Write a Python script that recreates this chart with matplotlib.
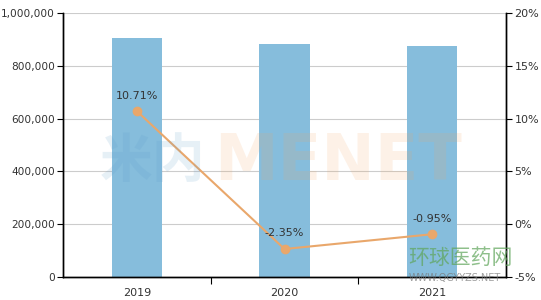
import matplotlib.pyplot as plt
import matplotlib.ticker as mticker
import numpy as np

plt.rcParams['font.family'] = ['DejaVu Sans', 'Noto Sans CJK SC']
plt.rcParams['font.size'] = 8

years = ['2019', '2020', '2021']
sales = [905000, 882000, 874000]
growth = [10.71, -2.35, -0.95]

bar_color = '#86BDDC'
line_color = '#E9A76B'
text_color = '#333333'

fig = plt.figure(figsize=(5.41, 3.0), dpi=100)
ax = fig.add_axes([0.1165, 0.0767, 0.8188, 0.88])
ax2 = ax.twinx()

x = np.arange(len(years))
ax.bar(x, sales, width=0.34, color=bar_color, zorder=2)
ax.set_xlim(-0.5, 2.5)
ax.set_ylim(0, 1000000)
ax.set_yticks(np.arange(0, 1000001, 200000))
ax.yaxis.set_major_formatter(mticker.FuncFormatter(lambda v, p: f'{int(v):,}'))
ax.grid(True, axis='y', color='#cccccc', linewidth=0.8, zorder=0)
ax.set_axisbelow(True)

# x ticks at category boundaries, labels at centers
ax.set_xticks([0.5, 1.5])
ax.set_xticklabels([])
ax.set_xticks(x, minor=True)
ax.set_xticklabels(years, minor=True)
ax.tick_params(axis='x', which='minor', length=0, pad=8, colors=text_color)
ax.tick_params(axis='x', which='major', length=5, color='black')
ax.tick_params(axis='y', length=4, pad=2, colors=text_color, labelsize=7.6)
ax.tick_params(axis='y', color='black')

ax2.plot(x, growth, color=line_color, linewidth=1.5, marker='o', markersize=6, zorder=3)
ax2.set_ylim(-5, 20)
ax2.set_yticks(np.arange(-5, 21, 5))
ax2.yaxis.set_major_formatter(mticker.FuncFormatter(lambda v, p: f'{int(v)}%'))
ax2.tick_params(axis='y', length=4, pad=2, colors=text_color, labelsize=8)
ax2.tick_params(axis='y', color='black')
for xi, g in zip(x, growth):
    ax2.text(xi, g + 1.0, f'{g:.2f}%', ha='center', va='bottom', color=text_color, fontsize=8)

for a in (ax, ax2):
    a.spines['top'].set_visible(False)
    for s in ('left', 'right', 'bottom'):
        a.spines[s].set_color('black')
        a.spines[s].set_linewidth(1)

# watermarks
fig.text(0.185, 0.46, '米内', fontsize=38, fontweight='bold', color='#5B9BC8', alpha=0.15,
         family=['Noto Sans CJK SC'], va='center', ha='left')
fig.text(0.395, 0.46, 'MENET', fontsize=46, fontweight='bold', color='#F4A460', alpha=0.15,
         va='center', ha='left')
fig.text(0.755, 0.14, '环球医药网', fontsize=15, color='#5FA55A', alpha=0.7,
         family=['Noto Sans CJK SC'], va='center', ha='left')
fig.text(0.755, 0.075, 'WWW.QGYYZS.NET', fontsize=7, color='#777777', alpha=0.7,
         va='center', ha='left')

fig.savefig('out.png', dpi=100)
